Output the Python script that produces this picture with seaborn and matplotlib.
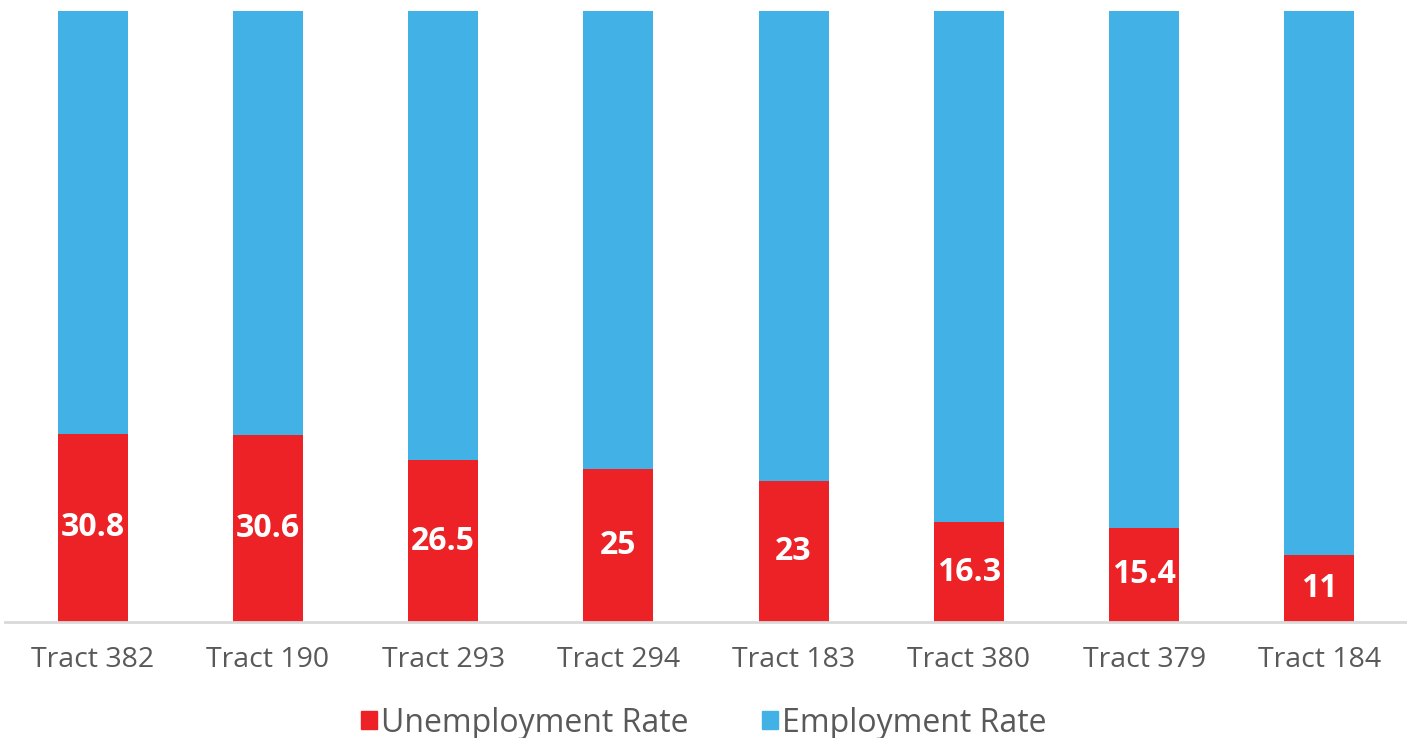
import matplotlib
matplotlib.use("Agg")
import matplotlib.pyplot as plt
from matplotlib.patches import Patch
import seaborn as sns
import pandas as pd

tracts = ["Tract 382", "Tract 190", "Tract 293", "Tract 294",
          "Tract 183", "Tract 380", "Tract 379", "Tract 184"]
unemployment = [30.8, 30.6, 26.5, 25, 23, 16.3, 15.4, 11]
employment = [round(100 - u, 1) for u in unemployment]

RED = "#EC2227"
BLUE = "#41B1E6"
GREY = "#595959"

sns.set_theme(style="white")
plt.rcParams["font.family"] = ["Open Sans", "DejaVu Sans"]

df = pd.DataFrame({"tract": tracts, "unemp": unemployment, "emp": employment})
df["total"] = df["unemp"] + df["emp"]

fig = plt.figure(figsize=(14.07, 7.38), dpi=100)
ax = fig.add_axes([5 / 1407, 116 / 738, 1 - 5 / 1407, 611 / 738])

# blue full-height bars underneath, red unemployment share on top
sns.barplot(data=df, x="tract", y="total", color=BLUE, width=0.4,
            saturation=1, ax=ax, linewidth=0)
sns.barplot(data=df, x="tract", y="unemp", color=RED, width=0.4,
            saturation=1, ax=ax, linewidth=0)

for i, v in enumerate(unemployment):
    ax.text(i, v / 2, f"{v:g}", ha="center", va="center", color="white",
            fontsize=23, fontweight="bold")

ax.set_ylim(0, 100)
ax.set_xlim(-0.5, len(tracts) - 0.5)
ax.set_xlabel("")
ax.set_ylabel("")
ax.set_yticks([])
ax.tick_params(axis="x", length=0, pad=17, labelsize=20.5, labelcolor=GREY)
for s in ["top", "right", "left"]:
    ax.spines[s].set_visible(False)
ax.spines["bottom"].set_color("#D9D9D9")
ax.spines["bottom"].set_linewidth(2)

handles = [Patch(color=RED, label="Unemployment Rate"),
           Patch(color=BLUE, label="Employment Rate")]
fig.legend(handles=handles, loc="center", bbox_to_anchor=(0.5, 1 - 723 / 738),
           ncol=2, frameon=False, fontsize=23, labelcolor=GREY,
           handlelength=0.5, handleheight=0.5, handletextpad=0.12,
           columnspacing=2.3)

fig.savefig("out.png", dpi=100)
